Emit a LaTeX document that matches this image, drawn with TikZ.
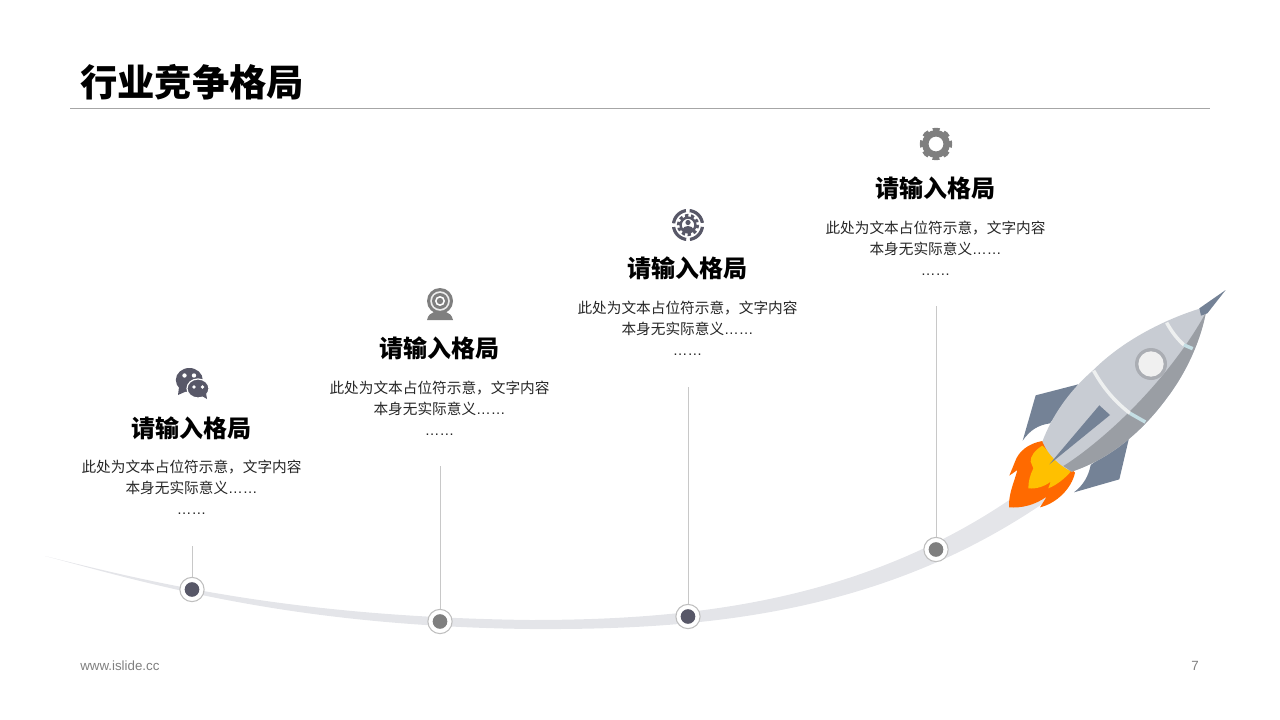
\documentclass[tikz,border=0pt]{standalone}
\usepackage{fontspec}
\setmainfont{Liberation Sans}
\newfontfamily\cjk{Noto Sans CJK SC}
\usetikzlibrary{positioning}
\definecolor{slate}{HTML}{585868}
\definecolor{midgrey}{HTML}{7F7F7F}
\definecolor{bandgrey}{HTML}{E4E5E9}
\definecolor{stemgrey}{HTML}{C8C8C8}
\definecolor{hull}{HTML}{C8CCD3}
\definecolor{hulldark}{HTML}{9A9EA4}
\definecolor{finblue}{HTML}{748296}
\definecolor{flameout}{HTML}{FF6A00}
\definecolor{flamein}{HTML}{FFC000}
\definecolor{stripewhite}{HTML}{EEF0F0}
\definecolor{stripeblue}{HTML}{C5DFE5}
\newcommand{\DOTS}{{\rmfamily ……}}
\newcommand{\BODYTEXT}{此处为文本占位符示意，文字内容\\本身无实际意义\DOTS\\\DOTS}
\tikzset{
  x=0.75pt,y=-0.75pt,
  titletext/.style={font=\cjk\bfseries\fontsize{28}{34}\selectfont,inner sep=0pt,anchor=west},
  headtext/.style={font=\cjk\bfseries\fontsize{18}{22}\selectfont,inner sep=0pt},
  bodytext/.style={font=\cjk\fontsize{11}{15.7}\selectfont,text=black!85,align=center,inner sep=0pt,anchor=north},
  foottext/.style={font=\fontsize{10}{12}\selectfont,text=midgrey,inner sep=0pt},
  stem/.style={draw=stemgrey,line width=0.75pt},
  ring/.style={circle,draw=black!25,line width=0.8pt,fill=white,minimum size=18.2pt,inner sep=0pt},
  core/.style={circle,fill=#1,minimum size=11pt,inner sep=0pt},
}
\begin{document}
\begin{tikzpicture}
  \useasboundingbox (0,0) rectangle (1280,720);

  \node[titletext] (title) at (80,82) {行业竞争格局};
  \coordinate (ruleL) at (70,108.5);
  \coordinate (ruleR) at (1210,108.5);
  \draw[draw=black!35,line width=0.75pt] (ruleL) -- (ruleR);

  %% band
  \fill[bandgrey] (45,556) .. controls (150,582) and (290,617) .. (530,620)
    .. controls (700,620) and (880,600) .. (1040,478) -- (1062,490)
    .. controls (890,616) and (700,630) .. (530,629)
    .. controls (290,626) and (150,584) .. (45,556) -- cycle;

  %% rocket
  \begin{scope}[shift={(1000,280)},scale=1/3]
    \fill[finblue] (235,313) -- (107,346) -- (68,482) .. controls (90,450) and (115,435) .. (150,430) -- cycle;
    \fill[finblue] (388,470) -- (358,598) -- (222,637) .. controls (250,615) and (265,590) .. (272,555) -- cycle;
    \fill[flameout] (127,483) .. controls (85,490) and (55,515) .. (45,545) -- (28,587) -- (52,570)
      .. controls (45,600) and (25,640) .. (27,682) .. controls (65,685) and (105,675) .. (140,650)
      -- (120,682) .. controls (170,670) and (215,625) .. (225,578) -- cycle;
    \fill[flamein] (127,497) .. controls (105,510) and (90,530) .. (92,545) -- (100,565)
      .. controls (90,585) and (85,605) .. (85,625) .. controls (110,628) and (135,618) .. (152,605)
      -- (145,625) .. controls (170,615) and (195,595) .. (212,575) -- cycle;
    \fill[hull] (612,82) .. controls (490,118) and (365,185) .. (280,270)
      .. controls (205,335) and (155,410) .. (127,485)
      .. controls (145,525) and (175,555) .. (215,575)
      .. controls (335,535) and (430,450) .. (500,355)
      .. controls (565,270) and (605,170) .. (618,95) -- cycle;
    \fill[hulldark] (618,97) .. controls (540,240) and (420,370) .. (330,450)
      .. controls (285,490) and (235,530) .. (190,558) -- (215,575)
      .. controls (335,535) and (430,450) .. (500,355)
      .. controls (565,270) and (605,170) .. (618,95) -- cycle;
    \draw[draw=stripewhite,line width=2.6pt] (281,272) .. controls (310,325) and (345,365) .. (390,400);
    \draw[draw=stripeblue,line width=2.6pt] (390,400) -- (436,426);
    \draw[draw=stripewhite,line width=2.6pt] (500,128) .. controls (515,155) and (530,175) .. (552,195);
    \draw[draw=stripeblue,line width=2.6pt] (552,195) -- (578,206);
    \fill[finblue] (298,376) -- (330,405) -- (148,553) -- cycle;
    \fill[finblue] (677,30) -- (598,85) -- (603,107) -- (622,100) -- cycle;
    \fill[black!15!hull] (453,252) circle (48);
    \fill[black!6] (453,252) circle (38);
  \end{scope}

  %% stems and dots
  \coordinate (topA) at (192.5,546);
  \coordinate (topB) at (440.5,466);
  \coordinate (topC) at (688.5,387);
  \coordinate (topD) at (936.5,306);
  \node[ring] (ringA) at (192,589.5) {};
  \node[ring] (ringB) at (440,621.5) {};
  \node[ring] (ringC) at (688,616.5) {};
  \node[ring] (ringD) at (936,549.5) {};
  \draw[stem] (topA) -- (topA |- ringA.north);
  \draw[stem] (topB) -- (topB |- ringB.north);
  \draw[stem] (topC) -- (topC |- ringC.north);
  \draw[stem] (topD) -- (topD |- ringD.north);
  \node[core=slate] (coreA) at (ringA) {};
  \node[core=midgrey] (coreB) at (ringB) {};
  \node[core=slate] (coreC) at (ringC) {};
  \node[core=midgrey] (coreD) at (ringD) {};

  %% text blocks
  \node[headtext] (headA) at (191.5,428.5) {请输入格局};
  \node[headtext] (headB) at (439.5,348.5) {请输入格局};
  \node[headtext] (headC) at (687.5,268.5) {请输入格局};
  \node[headtext] (headD) at (935.5,188.5) {请输入格局};
  \node[bodytext] (bodyA) at (191.5,460) {\BODYTEXT};
  \node[bodytext] (bodyB) at (439.5,380.5) {\BODYTEXT};
  \node[bodytext] (bodyC) at (687.5,301) {\BODYTEXT};
  \node[bodytext] (bodyD) at (935.5,221) {\BODYTEXT};

  %% chat icon
  \fill[slate] (189.3,380) ellipse (13.5 and 12);
  \fill[slate] (179,387) -- (178,395) -- (187,391) -- cycle;
  \fill[slate,draw=white,line width=0.9pt] (198,388.5) ellipse (11 and 9.5);
  \fill[slate] (202,396) -- (207,399) -- (206,393) -- cycle;
  \fill[white] (184.5,375.5) circle (2.2) (194,375.5) circle (2.2);
  \fill[white] (194,387) circle (1.8) (202.5,387) circle (1.8);

  %% webcam icon
  \fill[midgrey] (440,301) circle (13);
  \fill[white!85!midgrey] (440,301) circle (9.8);
  \fill[midgrey] (440,301) circle (8);
  \fill[white] (440,301) circle (5);
  \fill[midgrey] (440,301) circle (3.2);
  \fill[midgrey] (427,320) .. controls (428,315) and (431,313) .. (434,312) -- (446,312) .. controls (449,313) and (452,315) .. (453,320) -- cycle;

  %% target gear icon
  \draw[slate,line width=2.4pt,dash pattern=on 14.2pt off 2.8pt,dash phase=-1.4pt] (688,225) circle (14.5);
  \draw[slate,line width=2.6pt,dash pattern=on 2.4pt off 2pt] (688,225) circle (9.4);
  \draw[slate,line width=1.8pt] (688,225) circle (7.4);
  \fill[slate] (688,222.5) circle (2.6);
  \fill[slate] (682.5,231) .. controls (683,227) and (685,226) .. (688,226) .. controls (691,226) and (693,227) .. (693.5,231) -- cycle;

  %% gear icon
  \draw[midgrey,line width=4pt,dash pattern=on 4.6pt off 3.35pt,dash phase=2.3pt] (936,144) circle (13.5);
  \draw[midgrey,line width=4.8pt] (936,144) circle (10.7);

  \node[foottext,anchor=west] (site) at (80,666) {www.islide.cc};
  \node[foottext] (page) at (1195,666) {7};
\end{tikzpicture}
\end{document}
